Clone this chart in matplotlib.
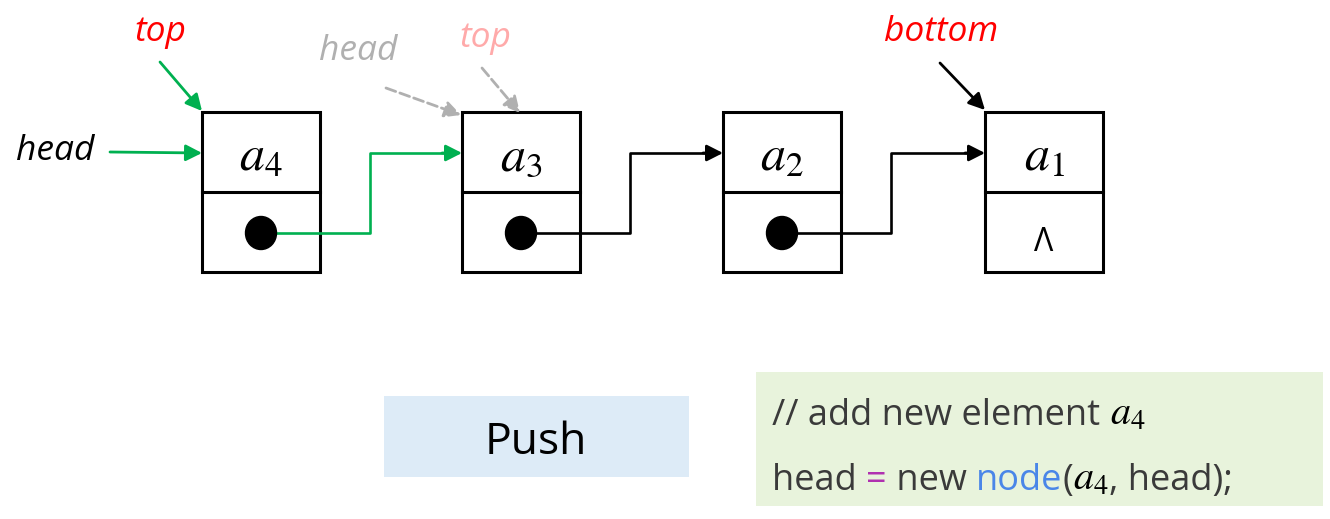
import matplotlib
matplotlib.use("Agg")
from matplotlib import pyplot as plt
from matplotlib.patches import Rectangle, Ellipse

plt.rcParams["mathtext.fontset"] = "stix"

# diagram content
node_labels = ["$a_4$", "$a_3$", "$a_2$", "$a_1$"]
node_left = [202, 462, 723, 985]
null_sign = "\u039b"
op_label = "Push"
code_lines = [
    [("// add new element ", "#3a3a3a"), ("$a_4$", "#000000")],
    [("head ", "#3a3a3a"), ("=", "#b030b0"), (" new ", "#3a3a3a"),
     ("node", "#4a86e8"), ("(", "#3a3a3a"), ("$a_4$", "#000000"),
     (", head);", "#3a3a3a")],
]

GREEN = "#00b050"
W, TOP, MID, BOT = 118, 112, 192, 272

fig = plt.figure(figsize=(13.3, 5.19), dpi=100)
ax = fig.add_axes([0, 0, 1, 1])
ax.set_xlim(0, 1330)
ax.set_ylim(519, 0)
ax.axis("off")


def arrow(x0, y0, x1, y1, color, ls="-"):
    ax.annotate("", xy=(x1, y1), xytext=(x0, y0),
                arrowprops=dict(arrowstyle="-|>,head_length=0.65,head_width=0.33",
                                color=color, lw=2.0, linestyle=ls,
                                shrinkA=0, shrinkB=0, mutation_scale=15))


# nodes
for i, lab in enumerate(node_labels):
    x = node_left[i]
    ax.add_patch(Rectangle((x, TOP), W, BOT - TOP, fill=False, lw=2.2, ec="black"))
    ax.plot([x, x + W], [MID, MID], color="black", lw=2.2)
    ax.text(x + W / 2, 170, lab, fontsize=36, ha="center", va="baseline")
    if i < len(node_labels) - 1:
        cx = x + 59
        col = GREEN if i == 0 else "black"
        bend = x + 168
        nxt = node_left[i + 1]
        ax.plot([cx, bend, bend, nxt - 12], [233, 233, 153, 153], color=col, lw=1.9)
        arrow(nxt - 20, 153, nxt, 153, col)
        ax.add_patch(Ellipse((cx, 233), 31, 33, color="black", zorder=5))
    else:
        ax.text(x + W / 2, 251, null_sign, fontsize=23, ha="center", va="baseline",
                family="Open Sans")

# pointer labels
lbl = dict(fontsize=25.5, style="italic", family="Open Sans", ha="center", va="center")
ax.text(55, 151, "head", color="black", **lbl)
arrow(110, 152, 202, 153, GREEN)
ax.text(160, 32, "top", color="#ff0000", **lbl)
arrow(160, 62, 202, 111, GREEN)
ax.text(358, 51, "head", color="#b0b0b0", **lbl)
arrow(386, 88, 461, 115, "#b0b0b0", ls="--")
ax.text(485, 38, "top", color="#ffaaaa", **lbl)
arrow(482, 68, 520, 113, "#b0b0b0", ls="--")
ax.text(941, 32, "bottom", color="#ff0000", **lbl)
arrow(940, 63, 985, 110, "black")

# Push box
ax.add_patch(Rectangle((384, 396), 305, 81, color="#ddebf7", lw=0))
ax.text(536, 454, op_label, fontsize=32, family="Open Sans", ha="center", va="baseline")

# code box
ax.add_patch(Rectangle((756, 372), 567, 134, color="#e8f3dc", lw=0))
renderer = fig.canvas.get_renderer()
for row, y in zip(code_lines, [425, 490]):
    x = 772
    for s, c in row:
        t = ax.text(x, y, s, color=c, fontsize=26 if "$" not in s else 29,
                    family="Open Sans", ha="left", va="baseline")
        bb = t.get_window_extent(renderer)
        x += bb.width

fig.savefig("out.png", dpi=100)
